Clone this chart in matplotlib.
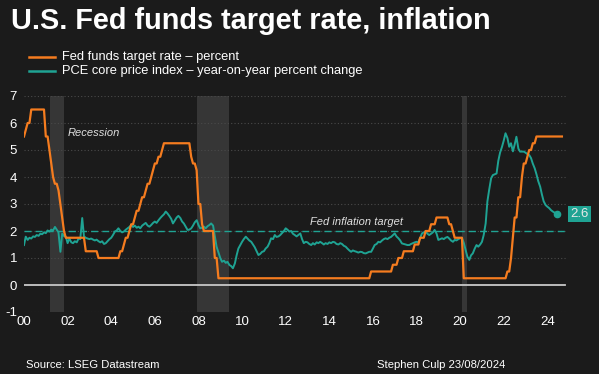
import matplotlib
matplotlib.use("Agg")
import matplotlib.pyplot as plt
import numpy as np
import pandas as pd

plt.rcParams['font.family'] = ['Liberation Sans', 'DejaVu Sans']

# ---------------- data ----------------
# Fed funds target rate (upper bound) - change dates and new rate
ff_start_rate = 5.5
ff_change_dates = [
    "2000-02-02", "2000-03-21", "2000-05-16",
    "2001-01-03", "2001-01-31", "2001-03-20", "2001-04-18", "2001-05-15", "2001-06-27",
    "2001-08-21", "2001-09-17", "2001-10-02", "2001-11-06", "2001-12-11",
    "2002-11-06", "2003-06-25",
    "2004-06-30", "2004-08-10", "2004-09-21", "2004-11-10", "2004-12-14",
    "2005-02-02", "2005-03-22", "2005-05-03", "2005-06-30", "2005-08-09", "2005-09-20",
    "2005-11-01", "2005-12-13",
    "2006-01-31", "2006-03-28", "2006-05-10", "2006-06-29",
    "2007-09-18", "2007-10-31", "2007-12-11",
    "2008-01-22", "2008-01-30", "2008-03-18", "2008-04-30", "2008-10-08", "2008-10-29", "2008-12-16",
    "2015-12-16", "2016-12-14",
    "2017-03-15", "2017-06-14", "2017-12-13",
    "2018-03-21", "2018-06-13", "2018-09-26", "2018-12-19",
    "2019-07-31", "2019-09-18", "2019-10-30",
    "2020-03-03", "2020-03-15",
    "2022-03-16", "2022-05-04", "2022-06-15", "2022-07-27", "2022-09-21", "2022-11-02", "2022-12-14",
    "2023-02-01", "2023-03-22", "2023-05-03", "2023-07-26",
]
ff_change_rates = [
    5.75, 6.0, 6.5,
    6.0, 5.5, 5.0, 4.5, 4.0, 3.75,
    3.5, 3.0, 2.5, 2.0, 1.75,
    1.25, 1.0,
    1.25, 1.5, 1.75, 2.0, 2.25,
    2.5, 2.75, 3.0, 3.25, 3.5, 3.75,
    4.0, 4.25,
    4.5, 4.75, 5.0, 5.25,
    4.75, 4.5, 4.25,
    3.5, 3.0, 2.25, 2.0, 1.5, 1.0, 0.25,
    0.5, 0.75,
    1.0, 1.25, 1.5,
    1.75, 2.0, 2.25, 2.5,
    2.25, 2.0, 1.75,
    1.25, 0.25,
    0.5, 1.0, 1.75, 2.5, 3.25, 4.0, 4.5,
    4.75, 5.0, 5.25, 5.5,
]
ff_first_month = "2000-01"
ff_last_month = "2024-09"

# PCE core price index, y/y % change (decimal year, value)
pce_year = [
    2000.00, 2000.08, 2000.17, 2000.25, 2000.33, 2000.42, 2000.50, 2000.58, 2000.67, 2000.75, 2000.83, 2000.92,
    2001.00, 2001.08, 2001.17, 2001.25, 2001.33, 2001.42, 2001.50, 2001.58, 2001.67, 2001.75, 2001.83, 2001.92,
    2002.00, 2002.08, 2002.17, 2002.25, 2002.33, 2002.42, 2002.50, 2002.58, 2002.67, 2002.75, 2002.83, 2002.92,
    2003.00, 2003.08, 2003.17, 2003.25, 2003.33, 2003.42, 2003.50, 2003.58, 2003.67, 2003.75, 2003.83, 2003.92,
    2004.00, 2004.08, 2004.17, 2004.25, 2004.33, 2004.42, 2004.50, 2004.58, 2004.67, 2004.75, 2004.83, 2004.92,
    2005.00, 2005.08, 2005.17, 2005.25, 2005.33, 2005.42, 2005.50, 2005.58, 2005.67, 2005.75, 2005.83, 2005.92,
    2006.00, 2006.08, 2006.17, 2006.25, 2006.33, 2006.42, 2006.50, 2006.58, 2006.67, 2006.75, 2006.83, 2006.92,
    2007.00, 2007.08, 2007.17, 2007.25, 2007.33, 2007.42, 2007.50, 2007.58, 2007.67, 2007.75, 2007.83, 2007.92,
    2008.00, 2008.08, 2008.17, 2008.25, 2008.33, 2008.42, 2008.50, 2008.58, 2008.67, 2008.75, 2008.83, 2008.92,
    2009.00, 2009.08, 2009.17, 2009.25, 2009.33, 2009.42, 2009.50, 2009.58, 2009.67, 2009.75, 2009.83, 2009.92,
    2010.00, 2010.08, 2010.17, 2010.25, 2010.33, 2010.42, 2010.50, 2010.58, 2010.67, 2010.75, 2010.83, 2010.92,
    2011.00, 2011.08, 2011.17, 2011.25, 2011.33, 2011.42, 2011.50, 2011.58, 2011.67, 2011.75, 2011.83, 2011.92,
    2012.00, 2012.08, 2012.17, 2012.25, 2012.33, 2012.42, 2012.50, 2012.58, 2012.67, 2012.75, 2012.83, 2012.92,
    2013.00, 2013.08, 2013.17, 2013.25, 2013.33, 2013.42, 2013.50, 2013.58, 2013.67, 2013.75, 2013.83, 2013.92,
    2014.00, 2014.08, 2014.17, 2014.25, 2014.33, 2014.42, 2014.50, 2014.58, 2014.67, 2014.75, 2014.83, 2014.92,
    2015.00, 2015.08, 2015.17, 2015.25, 2015.33, 2015.42, 2015.50, 2015.58, 2015.67, 2015.75, 2015.83, 2015.92,
    2016.00, 2016.08, 2016.17, 2016.25, 2016.33, 2016.42, 2016.50, 2016.58, 2016.67, 2016.75, 2016.83, 2016.92,
    2017.00, 2017.08, 2017.17, 2017.25, 2017.33, 2017.42, 2017.50, 2017.58, 2017.67, 2017.75, 2017.83, 2017.92,
    2018.00, 2018.08, 2018.17, 2018.25, 2018.33, 2018.42, 2018.50, 2018.58, 2018.67, 2018.75, 2018.83, 2018.92,
    2019.00, 2019.08, 2019.17, 2019.25, 2019.33, 2019.42, 2019.50, 2019.58, 2019.67, 2019.75, 2019.83, 2019.92,
    2020.00, 2020.08, 2020.17, 2020.25, 2020.33, 2020.42, 2020.50, 2020.58, 2020.67, 2020.75, 2020.83, 2020.92,
    2021.00, 2021.08, 2021.17, 2021.25, 2021.33, 2021.42, 2021.50, 2021.58, 2021.67, 2021.75, 2021.83, 2021.92,
    2022.00, 2022.08, 2022.17, 2022.25, 2022.33, 2022.42, 2022.50, 2022.58, 2022.67, 2022.75, 2022.83, 2022.92,
    2023.00, 2023.08, 2023.17, 2023.25, 2023.33, 2023.42, 2023.50, 2023.58, 2023.67, 2023.75, 2023.83, 2023.92,
    2024.00, 2024.08, 2024.17, 2024.25, 2024.33, 2024.42,
]
pce_value = [
    1.48, 1.79, 1.67, 1.75, 1.72, 1.80, 1.78, 1.85, 1.82, 1.90, 1.88, 1.95,
    1.92, 2.02, 1.98, 2.05, 2.02, 2.15, 2.05, 1.95, 1.23, 1.90, 1.82, 1.78,
    1.55, 1.72, 1.58, 1.55, 1.62, 1.58, 1.72, 1.70, 2.48, 1.80, 1.75, 1.72,
    1.70, 1.72, 1.68, 1.65, 1.68, 1.62, 1.58, 1.62, 1.52, 1.55, 1.62, 1.70,
    1.75, 1.85, 1.98, 2.02, 2.10, 2.00, 1.95, 1.98, 2.05, 2.10, 2.15, 2.22,
    2.15, 2.20, 2.12, 2.16, 2.10, 2.20, 2.25, 2.30, 2.20, 2.16, 2.22, 2.30,
    2.35, 2.30, 2.40, 2.48, 2.55, 2.62, 2.72, 2.65, 2.55, 2.45, 2.28, 2.40,
    2.50, 2.56, 2.48, 2.35, 2.28, 2.15, 2.04, 2.05, 2.10, 2.20, 2.32, 2.40,
    2.22, 2.10, 2.12, 2.16, 2.10, 2.18, 2.22, 2.28, 2.20, 1.80, 1.42, 1.20,
    1.00, 0.86, 0.90, 0.82, 0.86, 0.74, 0.70, 0.62, 0.80, 1.10, 1.35, 1.48,
    1.60, 1.70, 1.79, 1.72, 1.65, 1.60, 1.50, 1.40, 1.25, 1.11, 1.15, 1.23,
    1.25, 1.35, 1.42, 1.55, 1.73, 1.70, 1.85, 1.78, 1.80, 1.85, 1.92, 2.00,
    2.10, 2.05, 1.98, 2.00, 1.90, 1.85, 1.80, 1.85, 1.91, 1.70, 1.55, 1.60,
    1.58, 1.52, 1.48, 1.55, 1.50, 1.58, 1.55, 1.60, 1.55, 1.50, 1.55, 1.52,
    1.58, 1.55, 1.60, 1.58, 1.52, 1.50, 1.55, 1.52, 1.45, 1.42, 1.35, 1.28,
    1.23, 1.28, 1.25, 1.23, 1.20, 1.23, 1.22, 1.18, 1.17, 1.20, 1.23, 1.23,
    1.35, 1.48, 1.52, 1.60, 1.58, 1.65, 1.70, 1.73, 1.70, 1.75, 1.78, 1.85,
    1.91, 1.80, 1.73, 1.65, 1.54, 1.52, 1.50, 1.48, 1.48, 1.52, 1.55, 1.58,
    1.60, 1.58, 1.75, 1.91, 1.95, 1.98, 1.90, 1.85, 1.90, 1.95, 2.04, 1.90,
    1.67, 1.70, 1.73, 1.70, 1.75, 1.78, 1.72, 1.65, 1.60, 1.67, 1.65, 1.70,
    1.73, 1.75, 1.55, 1.30, 1.05, 0.93, 1.10, 1.17, 1.35, 1.48, 1.42, 1.50,
    1.60, 1.85, 2.28, 3.10, 3.52, 3.95, 4.07, 4.10, 4.13, 4.60, 4.90, 5.12,
    5.35, 5.62, 5.44, 5.12, 5.25, 4.95, 5.20, 5.49, 5.05, 4.94, 4.94, 4.94,
    4.90, 4.85, 4.81, 4.70, 4.50, 4.32, 4.10, 3.85, 3.64, 3.35, 3.10, 2.96,
    2.90, 2.85, 2.77, 2.72, 2.68, 2.63,
]
pce_last_label = "2.6"

recessions = [(2001.17, 2001.83), (2007.92, 2009.42), (2020.10, 2020.30)]
fed_target = 2.0

# ---------------- build monthly fed funds ----------------
months = pd.period_range(ff_first_month, ff_last_month, freq="M")
chg = pd.Series(ff_change_rates, index=pd.to_datetime(ff_change_dates))
ff_vals = []
for m in months:
    end = m.end_time
    prior = chg[chg.index <= end]
    ff_vals.append(prior.iloc[-1] if len(prior) else ff_start_rate)
ff_x = np.array([m.year + (m.month - 1) / 12 for m in months])
ff_vals = np.array(ff_vals)

# ---------------- style ----------------
BG = "#1b1b1b"
ORANGE = "#f57c1f"
TEAL = "#1fa393"
TEXT = "#ffffff"

fig = plt.figure(figsize=(5.99, 3.74), dpi=100, facecolor=BG)
ax = fig.add_axes([24 / 599, 1 - 312 / 374, 543 / 599, 216 / 374])
ax.set_facecolor(BG)
ax.set_xlim(2000, 2024.9)
ax.set_ylim(-1, 7)

for a, b in recessions:
    ax.axvspan(a, b, color="#363636", zorder=0, lw=0)

for y in range(-1, 8):
    if y == 0:
        continue
    ax.axhline(y, color="#4a4a4a", lw=0.8, ls=(0, (1, 2)), zorder=1)
ax.axhline(0, xmax=(2024.8 - 2000) / 24.9, color="#c8c8c8", lw=1.3, zorder=2)
ax.plot([2000, 2024.8], [fed_target, fed_target], color=TEAL, lw=1.0,
        ls=(0, (5, 3)), zorder=2)

ax.plot(ff_x, ff_vals, color=ORANGE, lw=1.6, zorder=4, solid_joinstyle="round")
ax.plot(pce_year, pce_value, color=TEAL, lw=1.4, zorder=3, solid_joinstyle="round")
ax.plot(pce_year[-1], pce_value[-1], "o", color=TEAL, ms=4.5, zorder=5)

ax.annotate(pce_last_label, xy=(pce_year[-1], pce_value[-1]), xytext=(16.5, 0),
            textcoords="offset points", ha="center", va="center", fontsize=9.5,
            color="#e8e8e8",
            bbox=dict(boxstyle="square,pad=0.18", fc=TEAL, ec="none"),
            annotation_clip=False)

ax.text(2002.02, 5.63, "Recession", fontsize=8, style="italic", color="#e0e0e0",
        va="center")
ax.text(2013.12, 2.33, "Fed inflation target", fontsize=8, style="italic",
        color="#e0e0e0", va="center")

for s in ax.spines.values():
    s.set_visible(False)
ax.set_yticks(range(-1, 8))
ax.set_yticklabels([str(v) for v in range(-1, 8)])
ax.set_xticks(range(2000, 2025, 2))
ax.set_xticklabels([f"{y % 100:02d}" for y in range(2000, 2025, 2)])
ax.tick_params(axis="both", length=0, colors=TEXT, labelsize=9.5)
ax.tick_params(axis="y", pad=5)
ax.tick_params(axis="x", pad=3)
for t in ax.get_yticklabels():
    t.set_horizontalalignment("right")

fig.text(11 / 599, 1 - 21 / 374, "U.S. Fed funds target rate, inflation",
         fontsize=20.8, fontweight="bold", color=TEXT, va="center", ha="left")

# legend
fig.add_artist(plt.Line2D([29 / 599, 55 / 599], [1 - 57.3 / 374] * 2, color=ORANGE, lw=1.8))
fig.add_artist(plt.Line2D([29 / 599, 55 / 599], [1 - 70.7 / 374] * 2, color=TEAL, lw=1.8))
fig.text(61.5 / 599, 1 - 57.3 / 374, "Fed funds target rate \u2013 percent",
         fontsize=9.25, color=TEXT, va="center")
fig.text(61.5 / 599, 1 - 70.7 / 374, "PCE core price index \u2013 year-on-year percent change",
         fontsize=9.25, color=TEXT, va="center")

fig.text(26 / 599, 1 - 365 / 374, "Source: LSEG Datastream", fontsize=8.1,
         color=TEXT, va="center")
fig.text(377 / 599, 1 - 365 / 374, "Stephen Culp 23/08/2024", fontsize=8.1,
         color=TEXT, va="center")

fig.savefig("out.png", dpi=100, facecolor=BG)
